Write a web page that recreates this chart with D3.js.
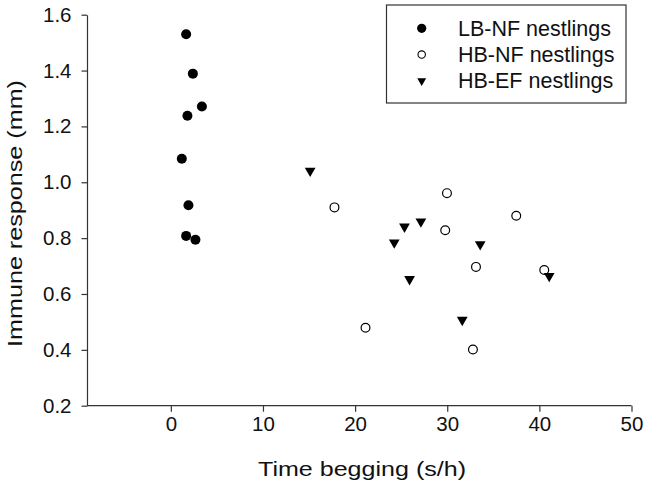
<!DOCTYPE html>
<html>
<head>
<meta charset="utf-8">
<script src="https://cdn.jsdelivr.net/npm/d3@7"></script>
<style>
  body { margin: 0; background: #fff; }
  svg { display: block; font-family: Arial, "Liberation Sans", sans-serif; }
</style>
</head>
<body>
<svg id="chart"></svg>
<script>
// data
const lbnfX = [1.66, 2.39, 3.37, 1.80, 1.19, 1.91, 1.66, 2.67],
  lbnfY = [1.530, 1.389, 1.271, 1.238, 1.084, 0.918, 0.808, 0.794];

const hbnfX = [17.76, 29.97, 37.49, 29.78, 33.12, 40.53, 21.13, 32.79],
  hbnfY = [0.910, 0.961, 0.880, 0.828, 0.697, 0.686, 0.479, 0.401];

const hbefX = [15.12, 25.36, 27.14, 24.25, 33.58, 25.91, 41.07, 31.63],
  hbefY = [1.041, 0.841, 0.859, 0.784, 0.778, 0.653, 0.664, 0.507];

const xTicks = [0, 10, 20, 30, 40, 50],
  yTicks = [0.2, 0.4, 0.6, 0.8, 1.0, 1.2, 1.4, 1.6],
  legendLabels = ["LB-NF nestlings", "HB-NF nestlings", "HB-EF nestlings"];

const WIDTH = 648,
  HEIGHT = 492,
  AXIS_COLOR = "#333",
  TEXT_COLOR = "#111";

const svg = d3.select("#chart")
  .attr("width", WIDTH)
  .attr("height", HEIGHT);

const x = d3.scaleLinear().domain([-9.1, 50]).range([87, 631.5]),
  y = d3.scaleLinear().domain([0.2, 1.6]).range([405.7, 14.7]);

// axes
const xAxis = svg.append("g")
  .attr("transform", `translate(0,${ y(0.2) })`)
  .call(d3.axisBottom(x).tickValues(xTicks).tickSize(6).tickSizeOuter(0).tickPadding(5).tickFormat(d3.format("d")));

const yAxis = svg.append("g")
  .attr("transform", `translate(${ x.range()[0] },0)`)
  .call(d3.axisLeft(y).tickValues(yTicks).tickSize(5.5).tickSizeOuter(0).tickPadding(10).tickFormat(d3.format(".1f")));

[xAxis, yAxis].forEach(a => {
  a.select(".domain").attr("stroke", AXIS_COLOR).attr("stroke-width", 1.2);
  a.selectAll(".tick line").attr("stroke", AXIS_COLOR).attr("stroke-width", 1.2);
  a.selectAll(".tick text")
    .attr("fill", TEXT_COLOR)
    .attr("font-size", 20.5)
    .attr("font-family", "Arial, 'Liberation Sans', sans-serif");
});

// x domain line runs from the y axis to the last tick
xAxis.select(".domain").attr("d", `M${ x.range()[0] },0H${ x.range()[1] }`);

// axis titles (stretched along their length like the original)
svg.append("text")
  .attr("x", 362)
  .attr("y", 476)
  .attr("text-anchor", "middle")
  .attr("font-size", 21)
  .attr("fill", TEXT_COLOR)
  .attr("textLength", 208)
  .attr("lengthAdjust", "spacingAndGlyphs")
  .text("Time begging (s/h)");

svg.append("text")
  .attr("transform", "translate(21.5,213.5) rotate(-90)")
  .attr("text-anchor", "middle")
  .attr("font-size", 21)
  .attr("fill", TEXT_COLOR)
  .attr("textLength", 267)
  .attr("lengthAdjust", "spacingAndGlyphs")
  .text("Immune response (mm)");

// points
const tri = d3.symbol().type(d3.symbolTriangle).size(50);

svg.append("g")
  .selectAll("circle")
  .data(d3.zip(lbnfX, lbnfY))
  .enter()
  .append("circle")
  .attr("cx", d => x(d[0]))
  .attr("cy", d => y(d[1]))
  .attr("r", 5)
  .attr("fill", "#000");

svg.append("g")
  .selectAll("circle")
  .data(d3.zip(hbnfX, hbnfY))
  .enter()
  .append("circle")
  .attr("cx", d => x(d[0]))
  .attr("cy", d => y(d[1]))
  .attr("r", 4.4)
  .attr("fill", "none")
  .attr("stroke", "#000")
  .attr("stroke-width", 1.2);

svg.append("g")
  .selectAll("path")
  .data(d3.zip(hbefX, hbefY))
  .enter()
  .append("path")
  .attr("d", tri)
  .attr("transform", d => `translate(${ x(d[0]) },${ y(d[1]) }) rotate(180)`)
  .attr("fill", "#000");

// legend
const legend = svg.append("g");

legend.append("rect")
  .attr("x", 386.5)
  .attr("y", 5)
  .attr("width", 239.5)
  .attr("height", 98)
  .attr("fill", "#fff")
  .attr("stroke", AXIS_COLOR)
  .attr("stroke-width", 1.2);

const rows = legend.selectAll("g.row")
  .data(legendLabels)
  .enter()
  .append("g")
  .attr("class", "row")
  .attr("transform", (d, i) => `translate(0,${ 28.3 + i * 26.3 })`);

rows.append("text")
  .attr("x", 458)
  .attr("y", 7.2)
  .attr("font-size", 21.5)
  .attr("fill", TEXT_COLOR)
  .text(d => d);

rows.filter((d, i) => i === 0).append("circle")
  .attr("cx", 421.7).attr("cy", 0).attr("r", 4.6).attr("fill", "#000");
rows.filter((d, i) => i === 1).append("circle")
  .attr("cx", 421.7).attr("cy", 0).attr("r", 3.7)
  .attr("fill", "none").attr("stroke", "#000").attr("stroke-width", 1.1);
rows.filter((d, i) => i === 2).append("path")
  .attr("d", d3.symbol().type(d3.symbolTriangle).size(34))
  .attr("transform", "translate(421.7,0) rotate(180)")
  .attr("fill", "#000");
</script>
</body>
</html>
